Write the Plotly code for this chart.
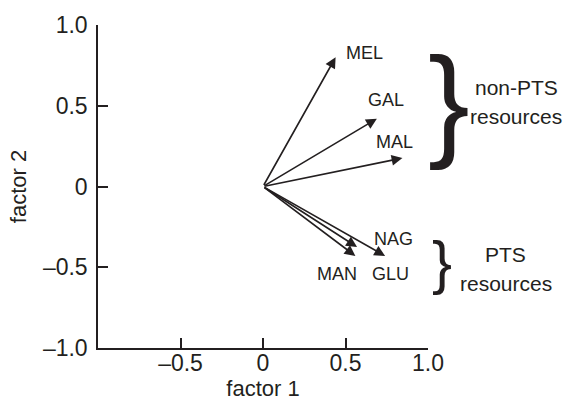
import plotly.graph_objects as go

# arrow end points (factor 1, factor 2)
names = ["MEL", "GAL", "MAL", "NAG", "MAN", "GLU"]
f1 = [0.44, 0.69, 0.845, 0.57, 0.56, 0.74]
f2 = [0.80, 0.42, 0.176, -0.375, -0.43, -0.43]
# label positions
lab_x = [0.613, 0.744, 0.798, 0.789, 0.450, 0.770]
lab_y = [0.824, 0.533, 0.273, -0.327, -0.539, -0.539]

x_ticks = [-0.5, 0, 0.5, 1.0]
x_ticklabels = ["\u20130.5", "0", "0.5", "1.0"]
y_ticks = [-1.0, -0.5, 0, 0.5, 1.0]
y_ticklabels = ["\u20131.0", "\u20130.5", "0", "0.5", "1.0"]

# group labels (text lines, paper x, paper y)
group_lines = ["non-PTS", "resources", "PTS", "resources"]
group_x = [1.268, 1.268, 1.236, 1.236]
group_y = [0.806, 0.718, 0.288, 0.200]

INK = "#231f20"
FONT = "Liberation Sans, Arial, sans-serif"

fig = go.Figure()
fig.add_trace(go.Scatter(x=[0], y=[0], mode="markers", marker=dict(size=1, color="rgba(0,0,0,0)"),
                         showlegend=False, hoverinfo="skip"))

ann = []
for n, x, y, lx, ly in zip(names, f1, f2, lab_x, lab_y):
    ann.append(dict(x=x, y=y, ax=0, ay=0, xref="x", yref="y", axref="x", ayref="y",
                    text="", showarrow=True, arrowhead=2, arrowsize=1.35, arrowwidth=1.6,
                    arrowcolor=INK, standoff=0, startstandoff=0))
    ann.append(dict(x=lx, y=ly, xref="x", yref="y", text=n, showarrow=False,
                    font=dict(family=FONT, size=18, color=INK)))

# braces
ann.append(dict(x=1.0, y=0.535, xref="x", yref="y", xanchor="left", yanchor="middle", xshift=-2,
                text="}", showarrow=False, font=dict(family=FONT, size=125, color=INK)))
ann.append(dict(x=1.0, y=-0.47, xref="x", yref="y", xanchor="left", yanchor="middle", xshift=2,
                text="}", showarrow=False, font=dict(family=FONT, size=60, color=INK)))
for t, gx, gy in zip(group_lines, group_x, group_y):
    ann.append(dict(x=gx, y=gy, xref="paper", yref="paper", text=t, showarrow=False,
                    xanchor="center", yanchor="middle",
                    font=dict(family=FONT, size=21, color=INK)))

fig.update_layout(
    width=571, height=406,
    margin=dict(l=98, r=143, t=18, b=58),
    paper_bgcolor="white", plot_bgcolor="white",
    showlegend=False,
    annotations=ann,
    font=dict(family=FONT, size=22, color=INK),
    xaxis=dict(range=[-1, 1], tickvals=x_ticks, ticktext=x_ticklabels, ticks="inside", ticklen=10,
               tickwidth=1.5, tickcolor=INK, showline=True, linecolor=INK, linewidth=1.5,
               showgrid=False, zeroline=False,
               title=dict(text="factor 1", standoff=0, font=dict(size=22)),
               tickfont=dict(size=23), ticklabelstandoff=-6, fixedrange=True),
    yaxis=dict(range=[-1, 1], tickvals=y_ticks, ticktext=y_ticklabels, ticks="inside", ticklen=10,
               tickwidth=1.5, tickcolor=INK, showline=True, linecolor=INK, linewidth=1.5,
               showgrid=False, zeroline=False,
               title=dict(text="factor 2", standoff=10, font=dict(size=22)),
               tickfont=dict(size=23), ticklabelstandoff=4, fixedrange=True),
)

fig.write_html("out.html")
